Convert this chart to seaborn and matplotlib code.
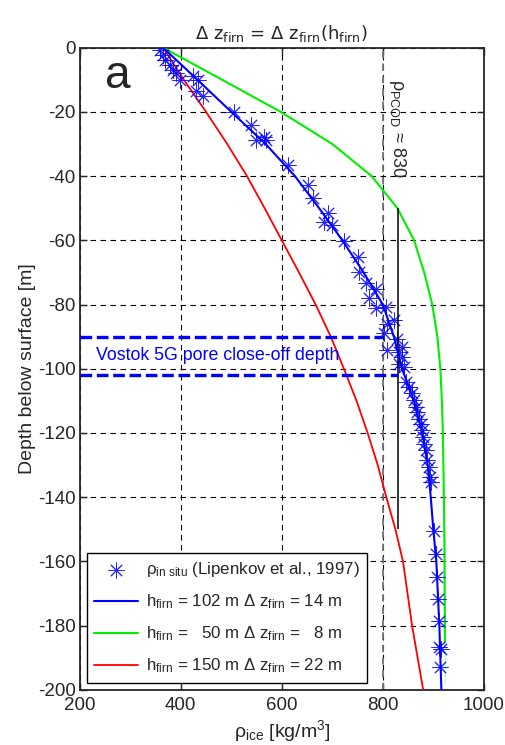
import numpy as np
import pandas as pd
import seaborn as sns
import matplotlib
matplotlib.use('Agg')
import matplotlib.pyplot as plt

# =====================
# data
# =====================
# in situ density (Lipenkov et al., 1997)
insitu_rho = [358, 365, 368, 378, 384, 391, 398, 424, 434, 431, 444, 506, 539, 565, 549, 569,
              612, 651, 661, 691, 684, 700, 723, 750, 753, 766, 786, 773, 786, 806, 822, 809,
              802, 829, 839, 809, 832, 839, 832, 842, 845, 852, 858, 862, 865, 868, 872, 875,
              878, 880, 881, 885, 888, 891, 893, 895, 901, 906, 908, 910, 911, 912, 915, 913]
insitu_depth = [-0.6, -2.2, -3.7, -5.3, -6.9, -7.9, -10.0, -8.9, -10.0, -13.6, -15.2, -19.9, -24.0,
                -27.7, -28.7, -28.7, -36.5, -42.7, -46.9, -51.6, -54.2, -55.2, -60.1, -65.1, -69.8,
                -73.4, -75.0, -78.1, -81.2, -80.7, -84.9, -85.9, -89.0, -90.6, -93.2, -94.2, -94.8,
                -96.3, -98.4, -99.4, -104.1, -105.7, -107.7, -109.8, -111.9, -113.5, -115.6, -117.1,
                -119.2, -121.3, -123.3, -125.4, -128.5, -130.6, -133.8, -135.3, -150.4, -157.8,
                -165.0, -171.7, -178.5, -186.6, -187.3, -192.8]

# modelled density profiles
model_depth = [0, -10, -20, -30, -40, -50, -60, -70, -80, -90, -100,
               -110, -120, -130, -140, -150, -160, -170, -180, -190, -200]
rho_h102 = [365, 433, 500, 568, 626, 674, 720, 762, 800, 822, 838,
            862, 878, 889, 895, 900, 906, 909, 912, 914, 916]
rho_h50 = [365, 482, 598, 700, 778, 829, 862, 882, 898, 908, 914,
           917, 919, 920, 921, 922, 922, 923, 923, 923, 923]
rho_h150 = [365, 406, 450, 492, 531, 566, 600, 634, 667, 697, 723,
            748, 770, 790, 807, 825, 840, 849, 858, 869, 880]

labels = ['ρ$_{in\\ situ}$ (Lipenkov et al., 1997)',
          'h$_{firn}$ = 102 m Δ z$_{firn}$ = 14 m',
          'h$_{firn}$ =   50 m Δ z$_{firn}$ =   8 m',
          'h$_{firn}$ = 150 m Δ z$_{firn}$ = 22 m']

pcod_rho = 830
pcd_top, pcd_bottom = -90, -102

# =====================
# styling
# =====================
sns.set_style('ticks')
plt.rcParams['font.family'] = ['Liberation Sans', 'DejaVu Sans']
plt.rcParams['mathtext.fontset'] = 'custom'
plt.rcParams['mathtext.rm'] = 'Liberation Sans'
plt.rcParams['mathtext.it'] = 'Liberation Sans'
plt.rcParams['mathtext.default'] = 'regular'
plt.rcParams['axes.unicode_minus'] = False
plt.rcParams['font.size'] = 12

fig = plt.figure(figsize=(5.05, 7.45), dpi=100)
ax = fig.add_axes([0.158, 0.074, 0.8, 0.862])

# model curves and in situ points
sns.scatterplot(x=insitu_rho, y=insitu_depth, ax=ax, marker=(8, 2, 0), s=120,
                color='#0000ff', linewidth=0.7, alpha=0.85, label=labels[0], zorder=4)
sns.lineplot(x=rho_h102, y=model_depth, ax=ax, sort=False, color='#0000ff', lw=1.5,
             label=labels[1], zorder=5)
sns.lineplot(x=rho_h50, y=model_depth, ax=ax, sort=False, color='#00ee00', lw=1.5,
             label=labels[2], zorder=3)
sns.lineplot(x=rho_h150, y=model_depth, ax=ax, sort=False, color='#ff0000', lw=1.3,
             label=labels[3], zorder=3)

# pore close-off depth band
ax.hlines(pcd_top, 200, 800, colors='#0000ff', linestyles=(0, (3.5, 1.4)), lw=2.4, zorder=6)
ax.hlines(pcd_bottom, 200, 830, colors='#0000ff', linestyles=(0, (3.5, 1.4)), lw=2.4, zorder=6)
ax.text(232, -96, 'Vostok 5G pore close-off depth', color='#0000ff', fontsize=12.8,
        va='center', ha='left', zorder=7)

# PCOD density marker
ax.vlines(pcod_rho, -150, -50, colors='k', lw=1.1, zorder=4)
ax.vlines(800, -200, 0, colors='0.45', linestyles=(0, (4, 3)), lw=1.3, zorder=1)
ax.text(829, -25, 'ρ$_{PCOD}$ ≈ 830', rotation=-90, ha='center', va='center', fontsize=13)

ax.text(250, -12.5, 'a', fontsize=33, ha='left', va='baseline')

# axes
ax.set_xlim(200, 1000)
ax.set_ylim(-200, 0)
ax.set_xticks([200, 400, 600, 800, 1000])
ax.set_yticks(np.arange(-200, 1, 20))
ax.grid(True, color='k', linestyle=(0, (5, 4)), lw=0.8)
ax.tick_params(direction='in', top=True, right=True, length=5, width=1, labelsize=13.5)
ax.tick_params(axis='x', pad=5)
ax.tick_params(axis='y', pad=3)
for sp in ax.spines.values():
    sp.set_linewidth(1.3)
    sp.set_visible(True)

ax.set_xlabel('ρ$_{ice}$ [kg/m$^3$]', fontsize=14, labelpad=3)
ax.set_ylabel('Depth below surface [m]', fontsize=14, labelpad=1)
ax.set_title('Δ z$_{firn}$ = Δ z$_{firn}$(h$_{firn}$)', fontsize=13,
             family=['DejaVu Sans'], pad=6)

leg = ax.legend(loc='lower left', bbox_to_anchor=(0.017, 0.011), borderaxespad=0,
                fancybox=False, edgecolor='k', framealpha=1, fontsize=12.2,
                handlelength=2.6, labelspacing=0.78, borderpad=0.45, handletextpad=0.45)
leg.get_frame().set_linewidth(1.0)
leg.set_zorder(10)

plt.savefig('out.png', dpi=100)
plt.close()
